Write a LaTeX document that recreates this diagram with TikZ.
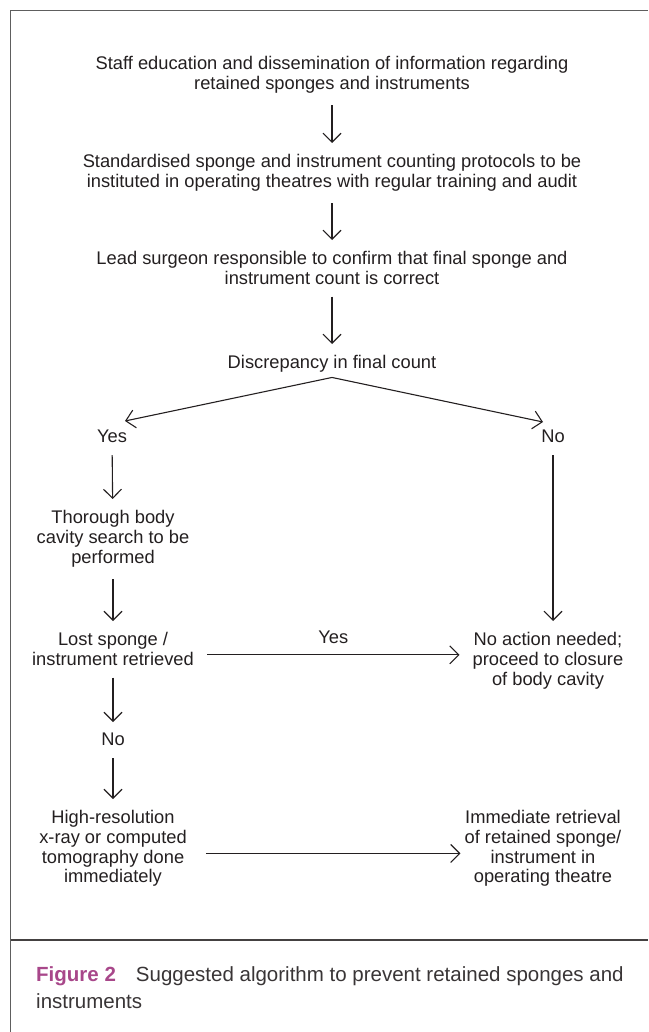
\documentclass[tikz,border=0pt]{standalone}
\usepackage{fontspec}
\setmainfont{Liberation Sans}
\usepackage{xcolor}
\definecolor{ink}{HTML}{231F20}
\definecolor{framegray}{HTML}{5E5E5E}
\definecolor{figmagenta}{HTML}{A8478A}
\usepackage{tikz}
\usetikzlibrary{arrows.meta}

\begin{document}
\begin{tikzpicture}[
  x=1pt, y=-1pt,
  txt/.style={inner sep=0pt, align=center, anchor=north, text=ink,
              font=\fontsize{18.3}{19.8}\selectfont},
  arr/.style={-{Straight Barb[length=9pt,width=18pt]}, line width=1.1pt, draw=ink,
              shorten <=12pt, shorten >=11pt},
  bare/.style={arr, shorten <=0pt, shorten >=0pt},
  rule/.style={draw=framegray, line width=1.4pt}
]
\useasboundingbox (0,0) rectangle (648,1032);
% frame and caption rule
\draw[rule] (10.5,1032) |- (648,10.5);
\draw[rule, draw=ink!85] (10.5,940) -- (648,940);

\node[txt] (staff)    at (332,56)  {Staff education and dissemination of information regarding\\retained sponges and instruments};
\node[txt] (protocol) at (332,154) {Standardised sponge and instrument counting protocols to be\\instituted in operating theatres with regular training and audit};
\node[txt] (lead)     at (332,251) {Lead surgeon responsible to confirm that final sponge and\\instrument count is correct};
\node[txt] (disc)     at (332,355) {Discrepancy in final count};
\node[txt] (yesA)     at (112,430) {Yes};
\node[txt] (noA)      at (553,430) {No};
\node[txt] (search)   at (113,510) {Thorough body\\cavity search to be\\performed};
\node[txt] (lost)     at (113,632) {Lost sponge /\\instrument retrieved};
\node[txt] (noaction) at (548,632) {No action needed;\\proceed to closure\\of body cavity};
\node[txt] (noB)      at (113,733) {No};
\node[txt] (hires)    at (113,810) {High-resolution\\x-ray or computed\\tomography done\\immediately};
\node[txt] (retrieve) at (543,810) {Immediate retrieval\\of retained sponge/\\instrument in\\operating theatre};

\node[inner sep=0pt, anchor=north west, align=left, text=ink!90,
      font=\fontsize{20.5}{27}\selectfont] (caption) at (36,966.5)
  {\textcolor{figmagenta}{\bfseries Figure 2}\hspace{20pt}Suggested algorithm to prevent retained sponges and\\instruments};

\draw[arr] (staff) -- (protocol);
\draw[arr] (protocol) -- (lead);
\draw[arr] (lead) -- (disc);

\coordinate (split) at ([yshift=-5pt]disc.south);
\draw[bare] (split) -- ([xshift=13pt,yshift=9pt]yesA.north);
\draw[bare] (split) -- ([xshift=-10pt,yshift=8pt]noA.north);

\draw[arr] (yesA) -- (search);
\draw[arr] (search) -- (lost);
\draw[arr] (noA) -- (noA |- noaction.north);

\coordinate (yesL) at ([xshift=13pt,yshift=-6pt]lost.east);
\coordinate (yesR) at (yesL -| noaction.west);
\draw[bare] (yesL) -- ([xshift=-13pt]yesR)
  node[txt, anchor=south, midway, yshift=11pt] (yesB) {Yes};

\draw[arr] (lost) -- (noB);
\draw[arr] (noB) -- (hires);

\coordinate (xrayL) at ([xshift=19pt,yshift=-5pt]hires.east);
\coordinate (xrayR) at (xrayL -| retrieve.west);
\draw[bare] (xrayL) -- ([xshift=-4pt]xrayR);
\end{tikzpicture}
\end{document}
